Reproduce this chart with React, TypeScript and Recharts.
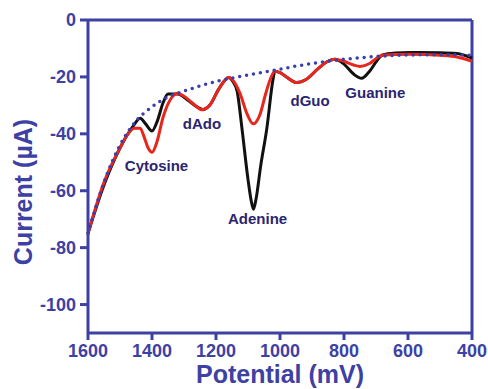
import { LineChart, Line, XAxis, YAxis, ReferenceLine, ReferenceDot } from "recharts";

// potential (mV) / current (µA)
const blackMv = [1600, 1550, 1500, 1460, 1437, 1420, 1400, 1385, 1365, 1350, 1320, 1290, 1260, 1240, 1220, 1190, 1160, 1148, 1134, 1119, 1100, 1090, 1083, 1075, 1060, 1041, 1022, 1016, 1000, 980, 947, 920, 880, 850, 828, 800, 770, 745, 720, 695, 680, 640, 594, 500, 447, 400];
const blackUa = [-75, -58, -45, -37.5, -34.5, -36.5, -39, -36, -29, -26, -26, -28, -30.5, -31.5, -30, -24, -20.2, -21.5, -25, -38, -56, -63.5, -66.5, -63, -51, -38, -21, -18, -18.5, -20, -22, -21, -17, -14.5, -13.8, -15.5, -19, -20.5, -18, -14, -12.3, -11.6, -11.4, -11.5, -11.8, -13.4];

const redMv = [1600, 1550, 1500, 1478, 1455, 1437, 1425, 1412, 1400, 1385, 1365, 1340, 1320, 1300, 1270, 1245, 1220, 1190, 1160, 1145, 1125, 1103, 1084, 1062, 1045, 1031, 1016, 1000, 980, 947, 920, 880, 850, 828, 800, 770, 750, 720, 695, 680, 640, 594, 500, 447, 400];
const redUa = [-75, -57, -45, -40.5, -38, -38, -41, -45, -46.5, -43, -34, -27.5, -25.8, -26.8, -29.5, -31.5, -30, -24, -20.2, -21.5, -25.8, -33, -36.5, -33, -26, -21, -18, -18.5, -20, -22, -21, -17, -14.5, -13.8, -14.5, -15.8, -16.3, -15.3, -13.2, -12.4, -12.1, -12, -12.4, -13, -14.5];

const baseMv = [1600, 1550, 1500, 1450, 1400, 1350, 1300, 1250, 1200, 1150, 1100, 1050, 1000, 950, 900, 850, 800, 750, 700, 650, 600, 500, 400];
const baseUa = [-75, -57, -44, -35.5, -30.5, -27, -25, -23.2, -21.6, -20.4, -19.3, -18.3, -17.3, -16.2, -15.3, -14.5, -13.8, -13.3, -12.8, -12.5, -12.3, -12.2, -12.4];

const labelNames = ["Cytosine", "dAdo", "Adenine", "dGuo", "Guanine"];
const labelMv = [1386, 1244, 1070, 906, 702];
const labelUa = [-51.1, -36.4, -69.8, -28.4, -25.4];

const xTicks = [1600, 1400, 1200, 1000, 800, 600, 400];
const yTicks = [0, -20, -40, -60, -80, -100];

const toRows = (mv: number[], ua: number[]) => mv.map((v, i) => ({ v, i: ua[i] }));
const blackData = toRows(blackMv, blackUa);
const redData = toRows(redMv, redUa);
const baseData = toRows(baseMv, baseUa);

const AXIS = "#3d41a4";
const NAVY = "#2c2470";
const FONT = "'Liberation Sans', Arial, sans-serif";

const tickStyle = { fill: AXIS, fontSize: 18, fontWeight: 700, fontFamily: FONT };

export default function App() {
  return (
    <div style={{ position: "absolute", left: 0, top: 0, background: "#fff" }}>
      <LineChart width={488} height={389} margin={{ top: 20, right: 16, left: 0, bottom: 0 }}>
        <XAxis
          dataKey="v"
          type="number"
          domain={[400, 1600]}
          ticks={xTicks}
          reversed
          allowDuplicatedCategory={false}
          height={56}
          stroke={AXIS}
          strokeWidth={3}
          tickSize={7}
          tickMargin={4}
          tick={tickStyle}
          tickLine={{ stroke: AXIS, strokeWidth: 3 }}
          label={({ viewBox }: any) => (
            <text
              x={viewBox.x + viewBox.width / 2}
              y={383}
              textAnchor="middle"
              fill={AXIS}
              fontSize={25}
              fontWeight={700}
              fontFamily={FONT}
            >
              Potential (mV)
            </text>
          )}
        />
        <YAxis
          dataKey="i"
          type="number"
          domain={[-110, 0]}
          ticks={yTicks}
          width={88}
          stroke={AXIS}
          strokeWidth={3}
          tickSize={8}
          tickMargin={4}
          tick={tickStyle}
          tickLine={{ stroke: AXIS, strokeWidth: 3 }}
          label={() => (
            <text
              x={32}
              y={192}
              transform="rotate(-90 32 192)"
              textAnchor="middle"
              fill={AXIS}
              fontSize={25}
              fontWeight={700}
              fontFamily={FONT}
            >
              Current (µA)
            </text>
          )}
        />
        <ReferenceLine y={0} stroke={AXIS} strokeWidth={3} />
        <ReferenceLine x={400} stroke={AXIS} strokeWidth={3} />
        <Line
          data={blackData}
          dataKey="i"
          type="monotone"
          stroke="#111111"
          strokeWidth={3}
          dot={false}
          isAnimationActive={false}
        />
        <Line
          data={redData}
          dataKey="i"
          type="monotone"
          stroke="#e8261c"
          strokeWidth={3}
          dot={false}
          isAnimationActive={false}
        />
        <Line
          data={baseData}
          dataKey="i"
          type="monotone"
          stroke="#3a3fb0"
          strokeWidth={3.5}
          strokeDasharray="0 7"
          strokeLinecap="round"
          dot={false}
          isAnimationActive={false}
        />
        {labelNames.map((name, k) => (
          <ReferenceDot
            key={name}
            x={labelMv[k]}
            y={labelUa[k]}
            r={0}
            fill="none"
            stroke="none"
            label={{
              value: name,
              position: "center",
              fill: NAVY,
              fontSize: 15,
              fontWeight: 700,
              fontFamily: FONT,
            }}
          />
        ))}
      </LineChart>
    </div>
  );
}
